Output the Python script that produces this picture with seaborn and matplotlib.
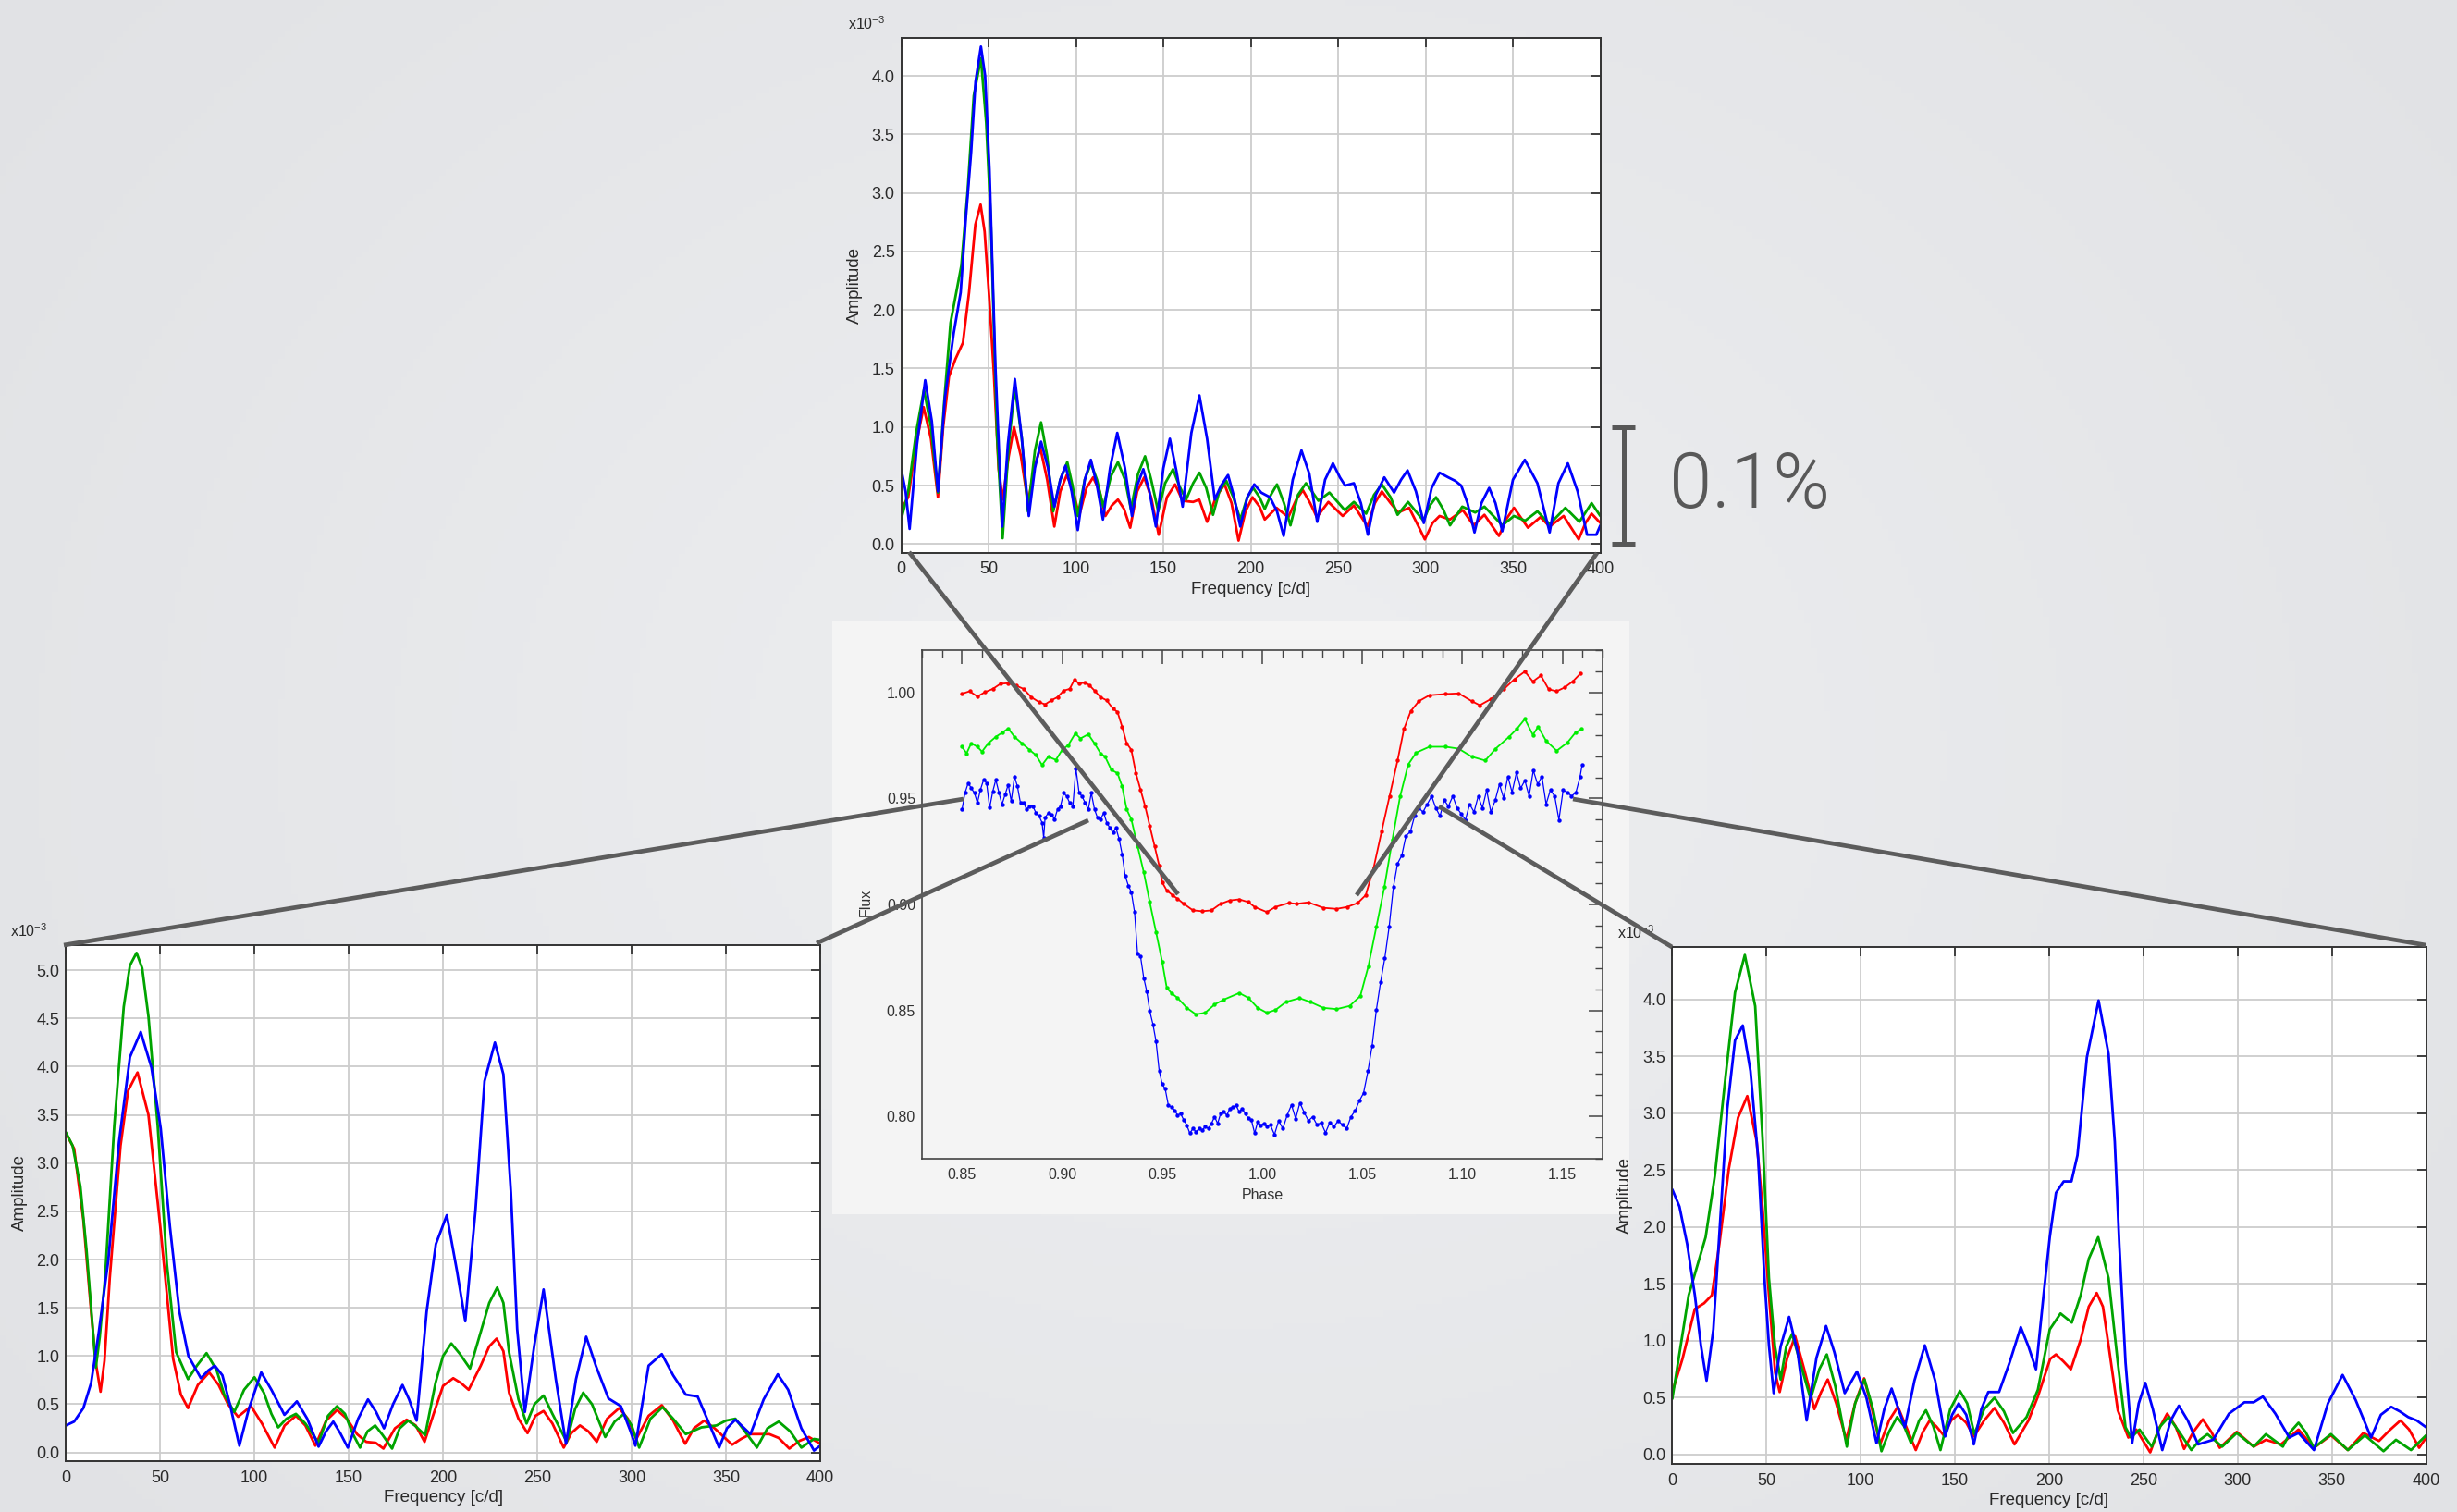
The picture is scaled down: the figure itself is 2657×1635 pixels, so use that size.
import numpy as np
import matplotlib
matplotlib.use("Agg")
import matplotlib.pyplot as plt
import seaborn as sns
from matplotlib.lines import Line2D
from matplotlib.patches import Rectangle
from matplotlib.ticker import MultipleLocator
from matplotlib.colors import LinearSegmentedColormap
from matplotlib.transforms import blended_transform_factory

# ---------------- DATA ----------------
# Top spectrum (amplitude x1e-3 vs frequency c/d)
top_red_f = [0, 4, 8.5, 12.8, 17, 21, 24, 27.3, 31, 35.3, 38.8, 42.4, 45.4, 47.7, 50.4, 53, 55.7, 58, 61.5, 64.5, 68.5, 72.5, 76, 79.6, 83.5, 87.6, 91, 94.7, 98.5, 101.8, 106, 109.8, 113.5, 116.8, 120.5, 124, 127.5, 131, 135, 139, 143, 147.3, 152, 156.7, 161, 167, 170.5, 175, 180, 185, 189, 193, 197, 201, 205, 208, 214.7, 221.5, 226, 229.8, 234, 237.8, 244.4, 252.6, 259, 266.8, 271, 275, 280, 284.4, 290.6, 296, 299.6, 304, 308, 314, 321.3, 327.5, 333.7, 342, 346.5, 350.6, 358.6, 365.7, 371, 379, 387.6, 391.5, 395, 400]
top_red_a = [0.30, 0.40, 0.85, 1.17, 0.90, 0.40, 1.00, 1.43, 1.58, 1.72, 2.15, 2.73, 2.90, 2.67, 2.09, 1.46, 0.64, 0.38, 0.75, 1.00, 0.75, 0.35, 0.65, 0.82, 0.55, 0.15, 0.45, 0.59, 0.45, 0.24, 0.48, 0.57, 0.45, 0.24, 0.33, 0.38, 0.30, 0.14, 0.45, 0.57, 0.40, 0.08, 0.40, 0.51, 0.37, 0.36, 0.38, 0.19, 0.40, 0.51, 0.35, 0.03, 0.28, 0.40, 0.32, 0.21, 0.31, 0.23, 0.38, 0.46, 0.35, 0.23, 0.36, 0.24, 0.33, 0.15, 0.35, 0.45, 0.35, 0.27, 0.31, 0.15, 0.04, 0.18, 0.24, 0.21, 0.29, 0.16, 0.25, 0.07, 0.22, 0.31, 0.14, 0.23, 0.15, 0.24, 0.04, 0.18, 0.26, 0.18]

top_green_f = [0, 4, 8.5, 13, 17, 21, 24.5, 28.2, 34.4, 38, 41.5, 45.6, 48.6, 51.2, 54.8, 58, 61.5, 65, 69, 72.5, 76.5, 80, 83.5, 87, 91, 95, 98, 101, 105, 108.5, 112, 115.6, 120, 124, 128, 131.4, 135.5, 139.5, 143, 147, 151, 155.5, 159, 163, 167, 170.6, 174.5, 178.4, 182, 186, 190, 194, 198, 201.4, 205, 208, 211.5, 215, 219, 222.7, 227, 231.6, 235, 238.7, 245, 253.8, 259, 266, 270.5, 275, 280, 284, 290, 298.8, 302.5, 306, 310, 314, 321, 328.4, 333.7, 343.9, 350.6, 357, 364, 371, 380, 388, 395, 400]
top_green_a = [0.21, 0.45, 0.95, 1.32, 1.00, 0.44, 1.20, 1.89, 2.38, 3.02, 3.83, 4.15, 3.60, 2.79, 0.93, 0.05, 0.85, 1.34, 0.90, 0.28, 0.80, 1.04, 0.75, 0.28, 0.55, 0.70, 0.50, 0.24, 0.55, 0.69, 0.55, 0.32, 0.58, 0.70, 0.55, 0.30, 0.60, 0.75, 0.55, 0.28, 0.52, 0.64, 0.50, 0.38, 0.52, 0.61, 0.48, 0.25, 0.45, 0.54, 0.40, 0.21, 0.40, 0.48, 0.40, 0.30, 0.42, 0.51, 0.35, 0.16, 0.42, 0.52, 0.45, 0.37, 0.44, 0.29, 0.36, 0.26, 0.42, 0.51, 0.40, 0.25, 0.36, 0.20, 0.33, 0.40, 0.30, 0.16, 0.32, 0.27, 0.32, 0.16, 0.24, 0.20, 0.28, 0.17, 0.31, 0.19, 0.35, 0.24]

top_blue_f = [0, 2.5, 4.8, 9, 13.7, 17.5, 21, 25, 30, 34, 37, 40, 42.5, 45.6, 48, 50.5, 53.9, 57.8, 61, 65, 69, 73, 76.5, 80, 84, 87.6, 91, 94, 97.5, 101, 105, 108.5, 112, 115.4, 119.5, 123.6, 128, 132, 135, 138.5, 142, 145.7, 150, 153.7, 157.5, 161, 166, 170.6, 175, 179.4, 183, 187, 190.5, 194, 198, 202, 206, 211, 215, 218.8, 224, 229, 233.5, 238, 242.5, 247, 251, 254, 259, 263, 267, 271.5, 276.4, 282, 286, 289.7, 294.5, 299, 303.5, 308, 313, 317, 320.4, 324, 328, 332, 336.4, 340, 343.9, 350, 356.8, 364, 371, 376, 381.4, 387, 392.4, 397.7, 400]
top_blue_a = [0.64, 0.45, 0.13, 0.85, 1.40, 1.05, 0.45, 1.25, 1.80, 2.15, 2.79, 3.35, 3.95, 4.25, 4.00, 3.20, 1.51, 0.15, 0.85, 1.41, 0.90, 0.24, 0.65, 0.875, 0.65, 0.32, 0.55, 0.67, 0.45, 0.12, 0.55, 0.72, 0.50, 0.21, 0.65, 0.95, 0.65, 0.24, 0.50, 0.64, 0.45, 0.15, 0.65, 0.90, 0.62, 0.32, 0.95, 1.27, 0.90, 0.38, 0.50, 0.59, 0.40, 0.15, 0.40, 0.51, 0.44, 0.40, 0.28, 0.07, 0.55, 0.80, 0.60, 0.19, 0.55, 0.69, 0.57, 0.50, 0.52, 0.35, 0.08, 0.42, 0.57, 0.44, 0.55, 0.63, 0.45, 0.18, 0.48, 0.61, 0.57, 0.54, 0.50, 0.35, 0.10, 0.35, 0.48, 0.35, 0.11, 0.55, 0.72, 0.52, 0.10, 0.52, 0.69, 0.45, 0.08, 0.08, 0.16]

# Bottom-left spectrum
bl_red_f = [0, 4.4, 9.3, 13.4, 15.9, 18.4, 20.5, 23.3, 29, 33, 38, 43.8, 50.3, 56.9, 61, 64.8, 70, 76, 81, 86, 91.3, 98.2, 104, 110.7, 116, 122, 127, 132.3, 138, 143.8, 149, 154.4, 159.3, 164.3, 168.4, 174.5, 180.7, 185.5, 190.2, 195, 200, 205.4, 209.5, 213.6, 220, 224.5, 228.4, 232, 235, 240, 244.8, 249, 253.3, 258, 264, 268, 272.6, 277, 281.5, 287, 293.4, 298, 302.5, 309, 316, 322, 328.4, 333, 338.5, 344, 353.3, 358, 363, 373, 378, 383.6, 389, 394, 400]
bl_red_a = [3.31, 3.15, 2.41, 1.46, 0.93, 0.63, 0.95, 1.81, 3.18, 3.75, 3.94, 3.50, 2.30, 0.97, 0.60, 0.46, 0.70, 0.83, 0.70, 0.50, 0.37, 0.48, 0.30, 0.05, 0.28, 0.38, 0.28, 0.07, 0.33, 0.44, 0.35, 0.19, 0.11, 0.10, 0.04, 0.25, 0.34, 0.28, 0.11, 0.40, 0.69, 0.77, 0.72, 0.65, 0.90, 1.10, 1.18, 1.05, 0.62, 0.35, 0.20, 0.38, 0.43, 0.30, 0.05, 0.20, 0.28, 0.22, 0.11, 0.35, 0.46, 0.35, 0.14, 0.38, 0.49, 0.33, 0.09, 0.25, 0.33, 0.25, 0.08, 0.14, 0.19, 0.19, 0.15, 0.04, 0.12, 0.16, 0.09]

bl_green_f = [0, 3.6, 7.7, 11, 14.3, 15.9, 18, 20.8, 25.7, 30.7, 34, 37.5, 40.5, 43.8, 48.7, 53.6, 58.5, 64.8, 69.5, 74.6, 80, 84, 89.3, 94.5, 100, 105, 109, 112.6, 117, 122, 127, 134, 139, 143.8, 148, 152, 156, 160, 164, 168, 173, 177, 181.5, 185, 190.5, 196, 200, 204.4, 209, 214.3, 220, 224.5, 228.7, 232, 235, 240, 244.3, 248.5, 253.3, 258, 265.6, 270, 274.3, 279, 286, 291, 295.9, 300, 304, 310, 316.4, 322, 328.7, 337, 345, 350, 355, 360, 366.4, 372, 378, 384, 390, 396.7, 400]
bl_green_a = [3.32, 3.18, 2.76, 2.09, 1.28, 0.88, 1.20, 1.81, 3.39, 4.62, 5.05, 5.18, 5.02, 4.52, 3.39, 1.95, 1.04, 0.76, 0.90, 1.03, 0.85, 0.60, 0.42, 0.65, 0.78, 0.62, 0.40, 0.26, 0.35, 0.40, 0.30, 0.10, 0.38, 0.48, 0.40, 0.20, 0.05, 0.22, 0.28, 0.18, 0.04, 0.25, 0.33, 0.28, 0.18, 0.72, 1.00, 1.13, 1.02, 0.87, 1.25, 1.55, 1.71, 1.55, 1.04, 0.55, 0.30, 0.50, 0.59, 0.40, 0.11, 0.45, 0.62, 0.50, 0.16, 0.32, 0.40, 0.28, 0.05, 0.35, 0.47, 0.35, 0.19, 0.26, 0.28, 0.33, 0.35, 0.22, 0.05, 0.25, 0.32, 0.22, 0.05, 0.14, 0.13]

bl_blue_f = [0, 4.4, 9.3, 13.4, 17.5, 22.5, 28.2, 34, 39.7, 45.4, 50.3, 55.2, 60.2, 65, 71.6, 75.5, 79, 83, 87, 92, 97, 103.6, 109, 115.9, 122.5, 128, 134, 138, 141.8, 145.5, 149.5, 155, 160.2, 164.5, 168.7, 173.5, 178.5, 182, 186, 191.3, 196.2, 202, 207.4, 211.8, 217.2, 222, 227.5, 232, 236, 239.3, 243.4, 248.4, 253.3, 259.8, 265.2, 270.5, 275.9, 281, 287.7, 294.3, 299.2, 302, 309, 316, 322, 328.7, 335, 340, 346.4, 350.5, 355, 363, 370, 377.5, 383, 390, 396.7, 400]
bl_blue_a = [0.28, 0.32, 0.46, 0.72, 1.25, 1.99, 3.22, 4.10, 4.36, 3.99, 3.36, 2.34, 1.46, 1.00, 0.77, 0.85, 0.90, 0.80, 0.50, 0.07, 0.45, 0.83, 0.65, 0.39, 0.53, 0.35, 0.06, 0.22, 0.32, 0.20, 0.05, 0.35, 0.55, 0.42, 0.25, 0.50, 0.70, 0.55, 0.33, 1.46, 2.16, 2.46, 1.88, 1.36, 2.51, 3.85, 4.25, 3.92, 2.69, 1.28, 0.42, 1.11, 1.69, 0.76, 0.09, 0.76, 1.20, 0.90, 0.56, 0.48, 0.23, 0.07, 0.90, 1.02, 0.80, 0.60, 0.58, 0.35, 0.05, 0.25, 0.34, 0.19, 0.55, 0.81, 0.65, 0.25, 0.02, 0.07]

# Bottom-right spectrum
br_red_f = [0, 5.4, 12, 16.9, 21, 25, 30, 34.9, 39.8, 44.8, 48, 51.3, 54.6, 57, 61, 65.2, 70, 75.4, 79, 82.5, 87, 92.3, 97, 101.8, 106, 110.3, 115, 119.7, 124, 129.2, 133, 136.6, 140, 144, 148, 151.5, 156, 160, 165.5, 171, 176, 181.6, 189, 194, 200.5, 203.6, 207.5, 211.5, 216.7, 221, 225.2, 228.5, 231.5, 236.4, 242, 246.2, 253.6, 258, 262.6, 267, 271.6, 276.5, 281.5, 286, 290.5, 299.5, 308.5, 315, 323, 332.3, 340.5, 349.5, 358.5, 366.7, 375, 381, 386.4, 391, 396.3, 400]
br_red_a = [0.55, 0.84, 1.28, 1.33, 1.40, 1.85, 2.51, 2.96, 3.15, 2.75, 2.15, 1.40, 0.72, 0.55, 0.85, 1.04, 0.75, 0.40, 0.55, 0.66, 0.45, 0.13, 0.45, 0.67, 0.40, 0.09, 0.30, 0.42, 0.25, 0.04, 0.20, 0.30, 0.25, 0.17, 0.30, 0.35, 0.28, 0.16, 0.30, 0.41, 0.28, 0.09, 0.30, 0.51, 0.84, 0.88, 0.82, 0.75, 1.01, 1.30, 1.42, 1.30, 0.96, 0.39, 0.15, 0.22, 0.02, 0.22, 0.36, 0.25, 0.05, 0.20, 0.31, 0.20, 0.06, 0.20, 0.07, 0.13, 0.09, 0.22, 0.06, 0.17, 0.04, 0.19, 0.12, 0.22, 0.30, 0.22, 0.06, 0.15]

br_green_f = [0, 8.7, 17.7, 22.6, 28.4, 33.3, 38.5, 44, 48, 51.3, 54.5, 57.5, 60.5, 63.6, 68, 73.4, 78, 82, 86.5, 92.6, 97, 102, 106.5, 111, 115, 119.3, 123, 126.7, 131, 134.6, 138.5, 142.3, 147.5, 152.6, 156.5, 160.3, 165.5, 171, 176, 180.8, 188, 194, 200.3, 206, 212, 216.7, 221, 226, 231.5, 236.4, 240.5, 243.4, 247.9, 254.4, 259, 263.4, 269, 275.4, 280, 284, 291.8, 299.5, 308.5, 315, 324, 328, 332.3, 336, 340.5, 349.5, 358.5, 367.5, 377.4, 384, 392, 400]
br_green_a = [0.49, 1.40, 1.91, 2.45, 3.34, 4.06, 4.39, 3.94, 2.75, 1.55, 0.95, 0.66, 0.95, 1.06, 0.80, 0.49, 0.75, 0.88, 0.60, 0.07, 0.45, 0.66, 0.40, 0.03, 0.20, 0.33, 0.25, 0.10, 0.30, 0.39, 0.25, 0.04, 0.40, 0.56, 0.45, 0.18, 0.40, 0.50, 0.38, 0.19, 0.33, 0.57, 1.10, 1.24, 1.16, 1.40, 1.72, 1.91, 1.55, 0.81, 0.24, 0.15, 0.22, 0.07, 0.25, 0.33, 0.20, 0.04, 0.13, 0.18, 0.07, 0.19, 0.07, 0.18, 0.07, 0.20, 0.28, 0.20, 0.06, 0.18, 0.04, 0.17, 0.03, 0.13, 0.04, 0.17]

br_blue_f = [0, 3.8, 7.9, 12, 15.2, 18.2, 21.8, 25, 29.2, 33.3, 37.4, 41.5, 45.6, 48.9, 51.3, 53.8, 57.5, 62, 66.5, 71.3, 76.5, 81.6, 86, 91.5, 98, 103, 108.4, 112.5, 116.4, 120, 123.4, 128.5, 134, 139.5, 144.8, 148.5, 152, 156, 160, 164, 167.7, 173.4, 179, 184.9, 189, 193, 197, 200.3, 203.6, 207.7, 211.8, 215, 220, 226.2, 231.5, 234.8, 237.2, 240.5, 244, 247.5, 251, 255, 260, 264.5, 268.8, 273.5, 279, 287, 295.4, 303.6, 308.5, 313.4, 320, 327.4, 332.3, 340.5, 347.9, 355.7, 362.6, 370.8, 376, 381.5, 386, 390.5, 395, 400]
br_blue_a = [2.33, 2.18, 1.85, 1.40, 0.96, 0.65, 1.10, 1.94, 3.04, 3.64, 3.77, 3.37, 2.60, 1.55, 0.96, 0.54, 0.95, 1.21, 0.90, 0.30, 0.85, 1.13, 0.90, 0.54, 0.73, 0.50, 0.10, 0.40, 0.58, 0.40, 0.24, 0.65, 0.96, 0.65, 0.16, 0.35, 0.45, 0.35, 0.09, 0.40, 0.55, 0.55, 0.81, 1.12, 0.95, 0.75, 1.40, 1.91, 2.30, 2.40, 2.40, 2.63, 3.49, 3.99, 3.52, 2.75, 1.85, 0.81, 0.10, 0.45, 0.63, 0.40, 0.04, 0.30, 0.43, 0.30, 0.09, 0.13, 0.36, 0.46, 0.46, 0.51, 0.36, 0.15, 0.19, 0.04, 0.45, 0.70, 0.48, 0.15, 0.35, 0.42, 0.38, 0.33, 0.30, 0.24]

# Light curves (flux vs phase)
lc_red_phase = [0.8500, 0.8538, 0.8577, 0.8615, 0.8654, 0.8692, 0.8731, 0.8769, 0.8808, 0.8846, 0.8885, 0.8915, 0.8946, 0.8977, 0.9008, 0.9038, 0.9062, 0.9085, 0.9115, 0.9138, 0.9162, 0.9192, 0.9223, 0.9254, 0.9277, 0.9300, 0.9323, 0.9346, 0.9369, 0.9392, 0.9415, 0.9438, 0.9462, 0.9485, 0.9500, 0.9523, 0.9554, 0.9577, 0.9608, 0.9654, 0.9700, 0.9746, 0.9792, 0.9838, 0.9885, 0.9931, 0.9962, 1.0023, 1.0066, 1.0133, 1.0172, 1.0230, 1.0305, 1.0371, 1.0424, 1.0477, 1.0517, 1.0557, 1.0596, 1.0636, 1.0676, 1.0708, 1.0742, 1.0782, 1.0835, 1.0915, 1.0981, 1.1047, 1.1087, 1.1140, 1.1206, 1.1259, 1.1312, 1.1352, 1.1392, 1.1431, 1.1471, 1.1511, 1.1551, 1.1590]
lc_red_flux = [0.9994, 1.0006, 0.9981, 1.0002, 1.0017, 1.0041, 1.0044, 1.0033, 1.0017, 0.9978, 0.9955, 0.9944, 0.9963, 0.9978, 1.0009, 1.0017, 1.0061, 1.0041, 1.0048, 1.0033, 1.0009, 0.9978, 0.9963, 0.9924, 0.9908, 0.9838, 0.9760, 0.9729, 0.9619, 0.9541, 0.9463, 0.9370, 0.9276, 0.9183, 0.9105, 0.9066, 0.9042, 0.9027, 0.9003, 0.8972, 0.8968, 0.8972, 0.9003, 0.9019, 0.9024, 0.9011, 0.8988, 0.8964, 0.8988, 0.9007, 0.9003, 0.9010, 0.8984, 0.8979, 0.8988, 0.9007, 0.9044, 0.9175, 0.9343, 0.9511, 0.9679, 0.9828, 0.9912, 0.9959, 0.9987, 0.9993, 0.9996, 0.9959, 0.9940, 0.9968, 1.0015, 1.0062, 1.0099, 1.0052, 1.0080, 1.0015, 1.0006, 1.0024, 1.0052, 1.0090]

lc_green_phase = [0.8500, 0.8523, 0.8546, 0.8577, 0.8600, 0.8631, 0.8669, 0.8700, 0.8731, 0.8762, 0.8800, 0.8838, 0.8869, 0.8900, 0.8931, 0.8969, 0.9000, 0.9031, 0.9066, 0.9092, 0.9131, 0.9162, 0.9192, 0.9215, 0.9246, 0.9277, 0.9300, 0.9323, 0.9346, 0.9377, 0.9408, 0.9438, 0.9469, 0.9500, 0.9523, 0.9546, 0.9577, 0.9623, 0.9669, 0.9715, 0.9762, 0.9808, 0.9885, 0.9931, 0.9977, 1.0023, 1.0066, 1.0119, 1.0186, 1.0239, 1.0305, 1.0371, 1.0437, 1.0490, 1.0530, 1.0570, 1.0610, 1.0650, 1.0689, 1.0729, 1.0769, 1.0835, 1.0915, 1.0981, 1.1047, 1.1114, 1.1166, 1.1233, 1.1272, 1.1312, 1.1352, 1.1378, 1.1418, 1.1471, 1.1524, 1.1564, 1.1596]
lc_green_flux = [0.9744, 0.9713, 0.9760, 0.9744, 0.9721, 0.9760, 0.9791, 0.9810, 0.9830, 0.9791, 0.9760, 0.9729, 0.9705, 0.9658, 0.9697, 0.9682, 0.9729, 0.9752, 0.9807, 0.9783, 0.9803, 0.9760, 0.9713, 0.9697, 0.9635, 0.9619, 0.9557, 0.9448, 0.9401, 0.9276, 0.9152, 0.9011, 0.8871, 0.8730, 0.8606, 0.8582, 0.8559, 0.8512, 0.8481, 0.8489, 0.8528, 0.8551, 0.8582, 0.8559, 0.8512, 0.8489, 0.8502, 0.8540, 0.8558, 0.8540, 0.8512, 0.8506, 0.8521, 0.8568, 0.8708, 0.8894, 0.9081, 0.9305, 0.9511, 0.9660, 0.9716, 0.9744, 0.9744, 0.9735, 0.9697, 0.9679, 0.9735, 0.9791, 0.9828, 0.9875, 0.9800, 0.9838, 0.9772, 0.9725, 0.9763, 0.9810, 0.9828]

lc_blue_phase = [0.8500, 0.8515, 0.8531, 0.8546, 0.8562, 0.8577, 0.8592, 0.8608, 0.8623, 0.8638, 0.8654, 0.8669, 0.8685, 0.8700, 0.8715, 0.8731, 0.8746, 0.8762, 0.8777, 0.8792, 0.8808, 0.8823, 0.8838, 0.8854, 0.8869, 0.8885, 0.8900, 0.8908, 0.8915, 0.8931, 0.8946, 0.8962, 0.8977, 0.8992, 0.9008, 0.9023, 0.9038, 0.9054, 0.9069, 0.9085, 0.9100, 0.9115, 0.9131, 0.9146, 0.9162, 0.9177, 0.9192, 0.9208, 0.9223, 0.9238, 0.9254, 0.9269, 0.9285, 0.9300, 0.9315, 0.9331, 0.9346, 0.9362, 0.9377, 0.9392, 0.9408, 0.9423, 0.9438, 0.9454, 0.9469, 0.9485, 0.9500, 0.9515, 0.9531, 0.9546, 0.9562, 0.9577, 0.9592, 0.9608, 0.9623, 0.9638, 0.9654, 0.9669, 0.9685, 0.9700, 0.9715, 0.9731, 0.9746, 0.9762, 0.9777, 0.9792, 0.9808, 0.9823, 0.9838, 0.9854, 0.9869, 0.9885, 0.9900, 0.9915, 0.9931, 0.9946, 0.9962, 0.9977, 0.9992, 1.0008, 1.0023, 1.0040, 1.0061, 1.0082, 1.0103, 1.0125, 1.0146, 1.0167, 1.0188, 1.0210, 1.0231, 1.0252, 1.0273, 1.0294, 1.0316, 1.0337, 1.0358, 1.0379, 1.0400, 1.0422, 1.0443, 1.0464, 1.0485, 1.0506, 1.0528, 1.0549, 1.0570, 1.0591, 1.0612, 1.0634, 1.0655, 1.0676, 1.0697, 1.0718, 1.0740, 1.0761, 1.0782, 1.0803, 1.0824, 1.0846, 1.0867, 1.0888, 1.0909, 1.0930, 1.0952, 1.0973, 1.0994, 1.1015, 1.1036, 1.1058, 1.1079, 1.1100, 1.1121, 1.1142, 1.1164, 1.1185, 1.1206, 1.1227, 1.1248, 1.1270, 1.1291, 1.1312, 1.1333, 1.1354, 1.1376, 1.1397, 1.1418, 1.1439, 1.1461, 1.1482, 1.1503, 1.1524, 1.1545, 1.1567, 1.1588, 1.1598]
lc_blue_flux = [0.9448, 0.9526, 0.9573, 0.9549, 0.9526, 0.9479, 0.9541, 0.9588, 0.9573, 0.9456, 0.9534, 0.9588, 0.9526, 0.9471, 0.9518, 0.9565, 0.9487, 0.9604, 0.9557, 0.9479, 0.9479, 0.9448, 0.9464, 0.9464, 0.9432, 0.9417, 0.9386, 0.9315, 0.9409, 0.9432, 0.9425, 0.9401, 0.9448, 0.9464, 0.9526, 0.9510, 0.9479, 0.9464, 0.9643, 0.9526, 0.9510, 0.9479, 0.9448, 0.9526, 0.9448, 0.9409, 0.9401, 0.9432, 0.9386, 0.9362, 0.9339, 0.9362, 0.9308, 0.9237, 0.9136, 0.9089, 0.9058, 0.8964, 0.8770, 0.8754, 0.8653, 0.8590, 0.8497, 0.8434, 0.8356, 0.8216, 0.8153, 0.8130, 0.8052, 0.8044, 0.8029, 0.8005, 0.8013, 0.7982, 0.7959, 0.7920, 0.7943, 0.7927, 0.7943, 0.7935, 0.7951, 0.7943, 0.7966, 0.7998, 0.7966, 0.8013, 0.8021, 0.8005, 0.8037, 0.8044, 0.8052, 0.8021, 0.8037, 0.8013, 0.7990, 0.7982, 0.7920, 0.7974, 0.7959, 0.7966, 0.7951, 0.7961, 0.7914, 0.7979, 0.7942, 0.8007, 0.8054, 0.7989, 0.8064, 0.8017, 0.7979, 0.7998, 0.7961, 0.7970, 0.7923, 0.7970, 0.7951, 0.7979, 0.7961, 0.7942, 0.7998, 0.8026, 0.8073, 0.8110, 0.8213, 0.8334, 0.8502, 0.8633, 0.8745, 0.8895, 0.9081, 0.9193, 0.9231, 0.9324, 0.9343, 0.9417, 0.9455, 0.9436, 0.9473, 0.9511, 0.9455, 0.9417, 0.9492, 0.9464, 0.9511, 0.9455, 0.9427, 0.9399, 0.9473, 0.9436, 0.9511, 0.9455, 0.9539, 0.9436, 0.9492, 0.9567, 0.9501, 0.9604, 0.9529, 0.9623, 0.9548, 0.9585, 0.9511, 0.9632, 0.9567, 0.9604, 0.9473, 0.9539, 0.9511, 0.9399, 0.9539, 0.9529, 0.9511, 0.9529, 0.9604, 0.9660]

freq_ticks = [0, 50, 100, 150, 200, 250, 300, 350, 400]
top_yticks = [0.0, 0.5, 1.0, 1.5, 2.0, 2.5, 3.0, 3.5, 4.0]
bl_yticks = [0.0, 0.5, 1.0, 1.5, 2.0, 2.5, 3.0, 3.5, 4.0, 4.5, 5.0]
br_yticks = [0.0, 0.5, 1.0, 1.5, 2.0, 2.5, 3.0, 3.5, 4.0]
phase_ticks = [0.85, 0.90, 0.95, 1.00, 1.05, 1.10, 1.15]
flux_ticks = [0.80, 0.85, 0.90, 0.95, 1.00]
scale_label = "0.1%"

# ---------------- FIGURE ----------------
sns.set_theme(style="white")
plt.rcParams["font.family"] = ["Liberation Sans", "DejaVu Sans"]
plt.rcParams["mathtext.default"] = "regular"

W, H = 2657, 1635
fig = plt.figure(figsize=(W / 100, H / 100), dpi=100)


def frect(x0, y0, x1, y1):
    return [x0 / W, 1 - y1 / H, (x1 - x0) / W, (y1 - y0) / H]


# background gradient
bgax = fig.add_axes([0, 0, 1, 1], zorder=-10)
gy, gx = np.mgrid[0:1:240j, 0:1:380j]
rad = np.sqrt(((gx - 0.5) * 1.3) ** 2 + (gy - 0.5) ** 2)
bg_cmap = LinearSegmentedColormap.from_list("bg", ["#eeeff1", "#e1e2e5"])
bgax.imshow(rad, cmap=bg_cmap, extent=[0, 1, 0, 1], aspect="auto", origin="lower")
bgax.set_axis_off()

# middle panel plate
fig.add_artist(Rectangle((900 / W, 1 - 1313 / H), 862 / W, 641 / H,
                         transform=fig.transFigure, facecolor="#f4f4f4",
                         edgecolor="none", zorder=-5))

SPEC_COLORS = {"red": "#ff0000", "green": "#00a400", "blue": "#0000ff"}
TXT = "#2a2a2a"


def spectrum(rect, ylim, yticks, curves, ylab_x, x10_x):
    ax = fig.add_axes(rect)
    ax.set_facecolor("white")
    for f, a, c in curves:
        sns.lineplot(x=f, y=a, color=SPEC_COLORS[c], linewidth=2.0, ax=ax,
                     estimator=None, sort=False, solid_joinstyle="round")
    ax.set_xlim(0, 400)
    ax.set_ylim(*ylim)
    ax.set_xticks(freq_ticks)
    ax.set_xticklabels([str(v) for v in freq_ticks])
    ax.set_yticks(yticks)
    ax.set_yticklabels([f"{v:.1f}" for v in yticks])
    ax.grid(True, color="#cdcdcd", linewidth=1.3)
    ax.set_axisbelow(True)
    ax.tick_params(direction="in", length=7, width=1.3, top=True, right=True,
                   labelsize=13, color="#333333", labelcolor=TXT)
    ax.tick_params(axis="x", pad=7)
    ax.tick_params(axis="y", pad=5)
    for s in ax.spines.values():
        s.set_color("#333333")
        s.set_linewidth(1.4)
    ax.set_xlabel("")
    ax.set_ylabel("")
    ax.text(0.5, -0.071, "Frequency [c/d]", transform=ax.transAxes, ha="center",
            va="center", fontsize=13.5, color=TXT)
    ax.text(ylab_x, 0.52, "Amplitude", transform=ax.transAxes, ha="center",
            va="center", rotation=90, fontsize=13.5, color=TXT)
    ax.text(x10_x, 1.028, r"x10$^{-3}$", transform=ax.transAxes, ha="left",
            va="center", fontsize=11.5, color=TXT)
    return ax


ax_top = spectrum(frect(974.6, 41, 1730.6, 597.6), (-0.073, 4.324), top_yticks,
                  [(top_red_f, top_red_a, "red"), (top_green_f, top_green_a, "green"),
                   (top_blue_f, top_blue_a, "blue")], -0.066, -0.076)
ax_bl = spectrum(frect(71.2, 1022, 887, 1580), (-0.09, 5.26), bl_yticks,
                 [(bl_red_f, bl_red_a, "red"), (bl_green_f, bl_green_a, "green"),
                  (bl_blue_f, bl_blue_a, "blue")], -0.061, -0.074)
ax_br = spectrum(frect(1808.4, 1024, 2623.6, 1582.8), (-0.08, 4.46), br_yticks,
                 [(br_red_f, br_red_a, "red"), (br_green_f, br_green_a, "green"),
                  (br_blue_f, br_blue_a, "blue")], -0.062, -0.073)

# middle light-curve panel
axm = fig.add_axes(frect(997, 703, 1733, 1253))
axm.set_facecolor("#f4f4f4")
for ph, fl, c, lw in [(lc_red_phase, lc_red_flux, "#ff0000", 1.3),
                      (lc_green_phase, lc_green_flux, "#00ee00", 1.3),
                      (lc_blue_phase, lc_blue_flux, "#0000ff", 0.9)]:
    sns.lineplot(x=ph, y=fl, color=c, linewidth=lw, marker="o", markersize=3.2,
                 markeredgewidth=0, ax=axm, estimator=None, sort=False)
axm.set_xlim(0.83, 1.17)
axm.set_ylim(0.78, 1.02)
axm.set_xticks(phase_ticks)
axm.set_xticklabels([f"{v:.2f}" for v in phase_ticks])
axm.set_yticks(flux_ticks)
axm.set_yticklabels([f"{v:.2f}" for v in flux_ticks])
axm.xaxis.set_minor_locator(MultipleLocator(0.01))
axm.yaxis.set_minor_locator(MultipleLocator(0.01))
axm.tick_params(which="major", direction="in", length=11, width=1.1, top=True,
                right=True, labelsize=11.5, color="#444444", labelcolor="#333333")
axm.tick_params(which="minor", direction="in", length=5.5, width=1.0, top=True,
                right=True, color="#444444")
axm.tick_params(axis="x", pad=7)
axm.tick_params(axis="y", pad=5)
for s in axm.spines.values():
    s.set_color("#444444")
    s.set_linewidth(1.2)
axm.set_xlabel("")
axm.set_ylabel("")
axm.text(0.5, -0.072, "Phase", transform=axm.transAxes, ha="center", va="center",
         fontsize=11.5, color="#333333")
axm.text(-0.082, 0.504, "Flux", transform=axm.transAxes, ha="center", va="center",
         rotation=90, fontsize=11.5, color="#333333")

# scale bar next to the top panel (spans 0 .. 1.0 x1e-3 = 0.1 %)
GREY = "#585858"
tr = blended_transform_factory(ax_top.transAxes, ax_top.transData)
for xs, ys in [([1.0332, 1.0332], [0.0, 1.0]), ([1.0164, 1.0495], [0.0, 0.0]),
               ([1.0164, 1.0495], [1.0, 1.0])]:
    ax_top.add_line(Line2D(xs, ys, transform=tr, color=GREY, linewidth=3.6,
                           clip_on=False, solid_capstyle="butt"))
ax_top.text(1.098, 0.49, scale_label, transform=tr, ha="left", va="center",
            fontsize=60, color=GREY, family=["Roboto", "Lato", "DejaVu Sans"],
            fontweight=300)

# connector lines
connectors = [((983, 597), (1274, 967)), ((1727, 598), (1467, 968)),
              ((69, 1022), (1042, 864)), ((883, 1020), (1177, 887)),
              ((1556, 872), (1808, 1024)), ((1701, 864), (2623, 1022))]
for (x0, y0), (x1, y1) in connectors:
    fig.add_artist(Line2D([x0 / W, x1 / W], [1 - y0 / H, 1 - y1 / H],
                          transform=fig.transFigure, color="#5c5c5c",
                          linewidth=3.4, solid_capstyle="butt", zorder=5))

fig.savefig("out.png", dpi=100)
